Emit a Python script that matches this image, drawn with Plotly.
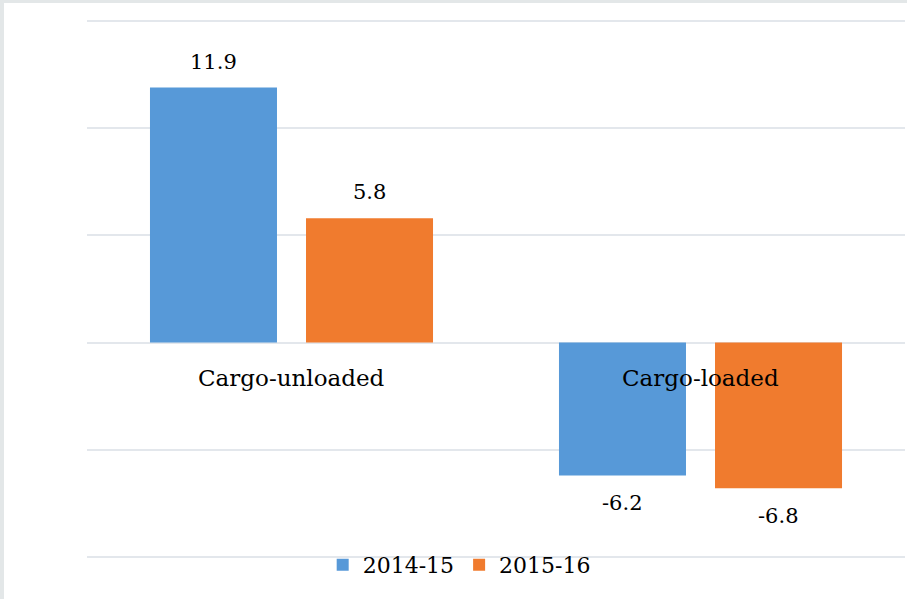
import plotly.graph_objects as go

categories = ["Cargo-unloaded", "Cargo-loaded"]
series_names = ["2014-15", "2015-16"]
values_2014 = [11.9, -6.2]
values_2015 = [5.8, -6.8]
colors = ["#5799d8", "#f07b2e"]

FONT = "DejaVu Serif"

fig = go.Figure()
for name, vals, col in zip(series_names, [values_2014, values_2015], colors):
    fig.add_trace(go.Bar(name=name, x=categories, y=vals, marker=dict(color=col, line=dict(width=0))))

annotations = []
for shift, vals in zip([-78, 78], [values_2014, values_2015]):
    for c, v in zip(categories, vals):
        annotations.append(dict(
            x=c, y=v, xref="x", yref="y", text=f"{v}", showarrow=False,
            xshift=shift, yshift=12 if v >= 0 else -14,
            yanchor="bottom" if v >= 0 else "top",
            font=dict(family=FONT, size=21, color="#000000")))
for c in categories:
    annotations.append(dict(
        x=c, y=0, xref="x", yref="y", text=c, showarrow=False,
        yanchor="top", yshift=-20,
        font=dict(family=FONT, size=23, color="#000000")))

fig.update_layout(
    width=907, height=599,
    margin=dict(l=87, r=2, t=19, b=40, autoexpand=False),
    paper_bgcolor="white", plot_bgcolor="white",
    barmode="group", bargap=0.237, bargroupgap=0.186,
    showlegend=True,
    legend=dict(orientation="h", x=0.455, xanchor="center", y=-0.011, yanchor="middle",
                font=dict(family=FONT, size=22, color="#000000"),
                bgcolor="rgba(0,0,0,0)", itemwidth=30, tracegroupgap=0),
    xaxis=dict(showticklabels=False, showgrid=False, zeroline=False, showline=False,
               range=[-0.5, 1.5]),
    yaxis=dict(range=[-10.1, 15.1], tickvals=[-10, -5, 0, 5, 10, 15], showticklabels=False,
               showgrid=True, gridcolor="#e3e7ec", gridwidth=2, zeroline=True,
               zerolinecolor="#e3e7ec", zerolinewidth=2, showline=False),
    annotations=annotations,
    shapes=[
        dict(type="rect", xref="paper", yref="paper", x0=-0.11, x1=1.01, y0=1.0296, y1=1.045,
             fillcolor="#e3e7e8", line=dict(width=0), layer="below"),
        dict(type="rect", xref="paper", yref="paper", x0=-0.11, x1=-0.1015, y0=-0.1, y1=1.045,
             fillcolor="#e3e7e8", line=dict(width=0), layer="below"),
    ],
)

fig.write_html("out.html", config={"displayModeBar": False},
               post_script="document.body.style.margin='0';document.body.style.overflow='hidden';")
